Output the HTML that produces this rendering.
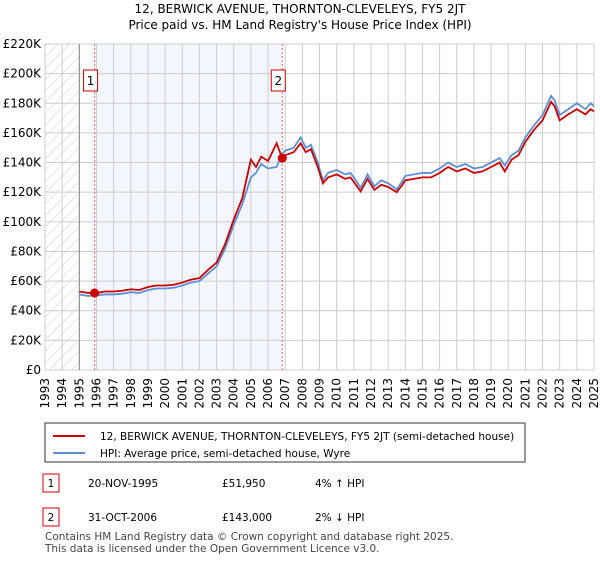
<!DOCTYPE html>
<html><head><meta charset="utf-8"><style>
body{margin:0;background:#fff;font-family:"Liberation Sans","DejaVu Sans",sans-serif;}
svg text{font-family:"DejaVu Sans","Liberation Sans",sans-serif;}
</style></head><body>
<svg width="600" height="560" id="c">
<defs><pattern id="h" width="8" height="8" patternUnits="userSpaceOnUse" patternTransform="rotate(45)"><line x1="0" y1="0" x2="0" y2="8" stroke="#ccc" stroke-width="1"/></pattern></defs>
<text x="300" y="13" text-anchor="middle" font-size="12">12, BERWICK AVENUE, THORNTON-CLEVELEYS, FY5 2JT</text>
<text x="300" y="29" text-anchor="middle" font-size="12">Price paid vs. HM Land Registry's House Price Index (HPI)</text>
<g id="plot"></g>
<g>
<rect x="45" y="423" width="480" height="39" fill="#fff" stroke="#333"/>
<line x1="53" y1="436" x2="85" y2="436" stroke="#c00" stroke-width="2"/>
<text x="100" y="440" font-size="10.5">12, BERWICK AVENUE, THORNTON-CLEVELEYS, FY5 2JT (semi-detached house)</text>
<line x1="53" y1="453" x2="85" y2="453" stroke="#5b8fd6" stroke-width="2"/>
<text x="100" y="457" font-size="10.5">HPI: Average price, semi-detached house, Wyre</text>
</g>
<g font-size="10.5">
<rect x="43" y="474" width="16" height="18" fill="#fff" stroke="#c00"/><text x="51" y="487" text-anchor="middle">1</text>
<text x="88" y="487">20-NOV-1995</text><text x="222" y="487">£51,950</text><text x="315" y="487">4% ↑ HPI</text>
<rect x="43" y="508" width="16" height="18" fill="#fff" stroke="#c00"/><text x="51" y="521" text-anchor="middle">2</text>
<text x="88" y="521">31-OCT-2006</text><text x="222" y="521">£143,000</text><text x="315" y="521">2% ↓ HPI</text>
</g>
<text x="45" y="540" font-size="10.5" fill="#444">Contains HM Land Registry data © Crown copyright and database right 2025.</text>
<text x="45" y="552" font-size="10.5" fill="#444">This data is licensed under the Open Government Licence v3.0.</text>
</svg>
<script>
const years=[1995,1995.5,1996,1996.5,1997,1997.5,1998,1998.5,1999,1999.5,2000,2000.5,2001,2001.5,2002,2002.5,2003,2003.5,2004,2004.5,2005,2005.3,2005.6,2006,2006.5,2006.83,2007,2007.5,2007.9,2008.2,2008.5,2008.9,2009.2,2009.5,2010,2010.5,2010.8,2011,2011.4,2011.8,2012.2,2012.6,2013,2013.5,2013.8,2014,2014.5,2015,2015.5,2016,2016.5,2017,2017.5,2018,2018.5,2019,2019.5,2019.8,2020.2,2020.6,2021,2021.5,2022,2022.5,2022.7,2023,2023.5,2024,2024.5,2024.8,2025];
const hpi=[51,50,50.5,51,51,51.5,52.5,52,54,55,55,55.5,57,59,60,65,70,82,98,112,130,133,139,136,137,146,148,150,157,150,152,140,128,133,135,132,133,130,123,132,124,128,126,122,127,131,132,133,133,136,140,137,139,136,137,140,143,138,145,148,157,165,172,185,182,172,176,180,176,180,178];
const paid=[53,52,52,53,53,53.5,54.5,54,56,57,57,57.5,59,61,62,67.5,72.5,85,101.5,116,142,137,144,141,153,143,145,147,153,147,149,137,126,130,132,129,130,127,120.5,129,121.5,125,123.5,120,124.5,128,129,130,130,133,137,134,136,133,134,137,140,134,142,145,154,162,168.5,181,178,168.5,172.5,176,172.5,176,174.5];
const yTicks=[0,20,40,60,80,100,120,140,160,180,200,220];
const xTicks=[1993,1994,1995,1996,1997,1998,1999,2000,2001,2002,2003,2004,2005,2006,2007,2008,2009,2010,2011,2012,2013,2014,2015,2016,2017,2018,2019,2020,2021,2022,2023,2024,2025];
const sales=[{label:"1",year:1995.89,value:51.95},{label:"2",year:2006.83,value:143}];
const L=45,R=594,T=44,B=370;
const X=y=>L+(y-1993)/32*(R-L), Y=v=>B-v/220*(B-T);
const g=document.getElementById('plot'),NS="http://www.w3.org/2000/svg";
function el(t,a,p){const e=document.createElementNS(NS,t);for(const k in a)e.setAttribute(k,a[k]);(p||g).appendChild(e);return e;}
let r=el('rect',{x:L,y:T,width:X(1995)-L,height:B-T,fill:'url(#h)'});


r=el('rect',{x:X(sales[0].year),y:T,width:X(sales[1].year)-X(sales[0].year),height:B-T,fill:'#eef3fc',opacity:0.7});


yTicks.forEach(v=>{const l=el('line',{x1:L,x2:R,y1:Y(v),y2:Y(v),stroke:'#ccc'});


const t=el('text',{x:L-4,y:Y(v)+4,'text-anchor':'end','font-size':12});t.textContent='£'+(v?v+'K':'0');

});
xTicks.forEach(yr=>{const l=el('line',{x1:X(yr),x2:X(yr),y1:T,y2:B,stroke:'#ccc'});


const t=el('text',{x:0,y:0,'text-anchor':'end','font-size':12,transform:`translate(${X(yr)+4},${B+8}) rotate(-90)`});t.textContent=yr;

});
let a=el('line',{x1:X(1995),x2:X(1995),y1:T,y2:B,stroke:'#888'});


sales.forEach(s=>{const l=el('line',{x1:X(s.year),x2:X(s.year),y1:T,y2:B,stroke:'#e66','stroke-dasharray':'2,2'});


const bx=el('rect',{x:X(s.year)-11,y:70,width:14,height:21,fill:'#fff',stroke:'#c00'});


const t=el('text',{x:X(s.year)-4,y:85,'text-anchor':'middle','font-size':12});t.textContent=s.label;

});
function line(arr,col,name){const p=el('polyline',{points:years.map((y,i)=>X(y)+','+Y(arr[i])).join(' '),fill:'none',stroke:col,'stroke-width':1.8});

}
line(hpi,'#5b8fd6','hpi-line');
line(paid,'#c00','price-paid-line');
sales.forEach(s=>{const c=el('circle',{cx:X(s.year),cy:Y(s.value),r:4.5,fill:'#c00'});

});
</script>
</body></html>
